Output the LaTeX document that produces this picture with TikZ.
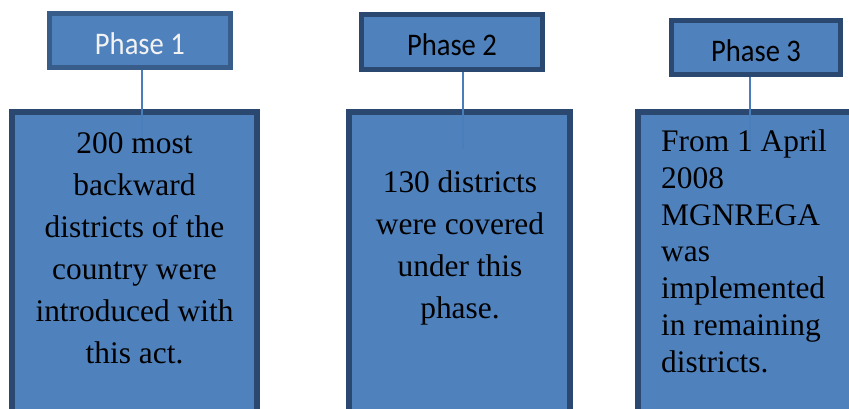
\documentclass[tikz,border=0pt]{standalone}
\usepackage{fontspec}
\setmainfont{Liberation Serif}
\newfontfamily\calib{Carlito}
\definecolor{fillblue}{HTML}{4F81BD}
\definecolor{darkedge}{HTML}{2B4870}
\definecolor{edgeone}{HTML}{385D8A}
\definecolor{linkblue}{HTML}{4A7EBB}
\definecolor{lighttext}{HTML}{F2F2F2}
\newcommand{\tallphase}[1]{\scalebox{1}[1.1]{#1}}
\tikzset{
  phasebox/.style={draw=darkedge, fill=fillblue, line width=5.2pt, inner sep=0pt,
    font=\calib\fontsize{28.6}{34}\selectfont, text height=27pt, text depth=0pt},
  bodybox/.style={draw=darkedge, fill=fillblue, line width=5.6pt},
  bodytext/.style={inner sep=0pt, font=\fontsize{31.4}{42}\selectfont},
  link/.style={draw=linkblue, line width=1.3pt}
}
\begin{document}
\begin{tikzpicture}[x=1pt,y=-1pt]
\useasboundingbox (0,0) rectangle (849,408);
\clip (0,0) rectangle (849,408);
% body boxes
\draw[bodybox] (11.8,111.8) rectangle (257.2,430);
\draw[bodybox] (348.8,111.8) rectangle (570.2,430);
\draw[bodybox] (637.8,111.8) rectangle (880,430);
% phase boxes
\node[phasebox, draw=edgeone, text=lighttext, minimum width=181pt, minimum height=53.8pt] (p1) at (139.9,40.5) {\tallphase{Phase 1}};
\node[phasebox, minimum width=181pt, minimum height=55pt] (p2) at (452,42) {\tallphase{Phase 2}};
\node[phasebox, minimum width=169pt, minimum height=54pt] (p3) at (756,47.5) {\tallphase{Phase 3}};
% connectors
\coordinate (e1) at (142,150);
\coordinate (e2) at (463,149);
\coordinate (e3) at (750,152);
\draw[link] (e1 |- p1.south) -- (e1);
\draw[link] (e2 |- p2.south) -- (e2);
\draw[link] (e3 |- p3.south) -- (e3);
% body texts (base anchor = baseline of last line)
\node[bodytext, align=center, anchor=base] (t1) at (134.5,363) {200 most\\backward\\districts of the\\country were\\introduced with\\this act.};
\node[bodytext, align=center, anchor=base] (t2) at (460,318) {130 districts\\were covered\\under this\\phase.};
\node[bodytext, align=left, anchor=base west, font=\fontsize{31.4}{36.7}\selectfont] (t3) at (661,372) {From 1 April\\2008\\MGNREGA\\was\\implemented\\in remaining\\districts.};
\end{tikzpicture}
\end{document}
